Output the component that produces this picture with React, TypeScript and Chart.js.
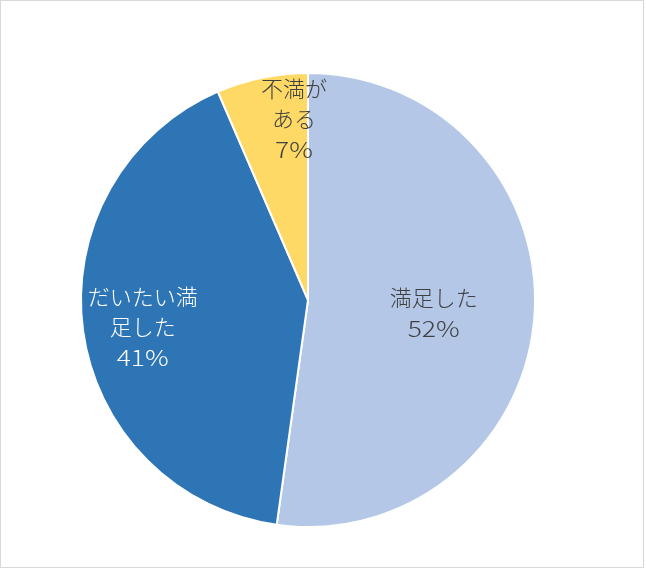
import React, { useEffect, useRef } from "react";
import { Chart, registerables } from "chart.js";

Chart.register(...registerables);

const categories = ["満足した", "だいたい満足した", "不満がある"];
const labelLines = [["満足した"], ["だいたい満", "足した"], ["不満が", "ある"]];
const values = [52.2, 41.3, 6.5];
const colors = ["#B4C7E7", "#2E75B6", "#FFD966"];
const textColors = ["#404040", "#FFFFFF", "#404040"];

const labelPlugin = {
  id: "sliceLabels",
  afterDatasetsDraw(chart: any) {
    const { ctx } = chart;
    const meta = chart.getDatasetMeta(0);
    const total = values.reduce((a, b) => a + b, 0);
    // [fraction across slice angle, fraction of radius, y nudge]
    const place = [
      [0.5, 0.555, 4],
      [0.5, 0.735, 4],
      [0.81, 0.8, 0],
    ];
    ctx.save();
    ctx.textAlign = "center";
    ctx.textBaseline = "middle";
    meta.data.forEach((arc: any, i: number) => {
      const { x, y, startAngle, endAngle, outerRadius } = arc.getProps(
        ["x", "y", "startAngle", "endAngle", "outerRadius"],
        true
      );
      const a = startAngle + (endAngle - startAngle) * place[i][0];
      const r = outerRadius * place[i][1];
      const cx = x + Math.cos(a) * r;
      const cy = y + Math.sin(a) * r + place[i][2];
      const pct = Math.round((values[i] / total) * 100) + "%";
      const lines = [...labelLines[i], pct];
      const lh = 30;
      ctx.fillStyle = textColors[i];
      lines.forEach((t, k) => {
        const ty = cy + (k - (lines.length - 1) / 2) * lh;
        if (t === pct) {
          ctx.save();
          ctx.font = '300 22px "Noto Sans CJK JP", sans-serif';
          ctx.translate(cx, ty + 1);
          ctx.scale(1.2, 1);
          ctx.fillText(t, 0, 0);
          ctx.restore();
        } else {
          ctx.font = '300 22px "Noto Sans CJK JP", sans-serif';
          ctx.fillText(t, cx, ty);
        }
      });
    });
    ctx.restore();
  },
};

export default function App() {
  const ref = useRef<HTMLCanvasElement>(null);
  useEffect(() => {
    document.body.style.margin = "0";
    const chart = new Chart(ref.current!, {
      type: "pie",
      data: {
        labels: categories,
        datasets: [
          {
            data: values,
            backgroundColor: colors,
            borderColor: "#FFFFFF",
            borderWidth: 2,
            hoverOffset: 0,
          },
        ],
      },
      options: {
        responsive: false,
        maintainAspectRatio: false,
        animation: false,
        radius: 227,
        layout: { padding: { left: 0, right: 30, top: 31, bottom: 0 } },
        plugins: {
          legend: { display: false },
          tooltip: { enabled: false },
        },
      } as any,
      plugins: [labelPlugin],
    });
    return () => chart.destroy();
  }, []);
  return (
    <div
      style={{
        position: "fixed",
        left: 0,
        top: 0,
        width: 646,
        height: 569,
        background: "#FFFFFF",
      }}
    >
      <div
        style={{
          position: "absolute",
          left: 0,
          top: 0,
          width: 642,
          height: 566,
          border: "1px solid #D9D9D9",
        }}
      />
      <canvas
        ref={ref}
        width={646}
        height={569}
        style={{ position: "absolute", left: 0, top: 0, width: 646, height: 569 }}
      />
    </div>
  );
}
